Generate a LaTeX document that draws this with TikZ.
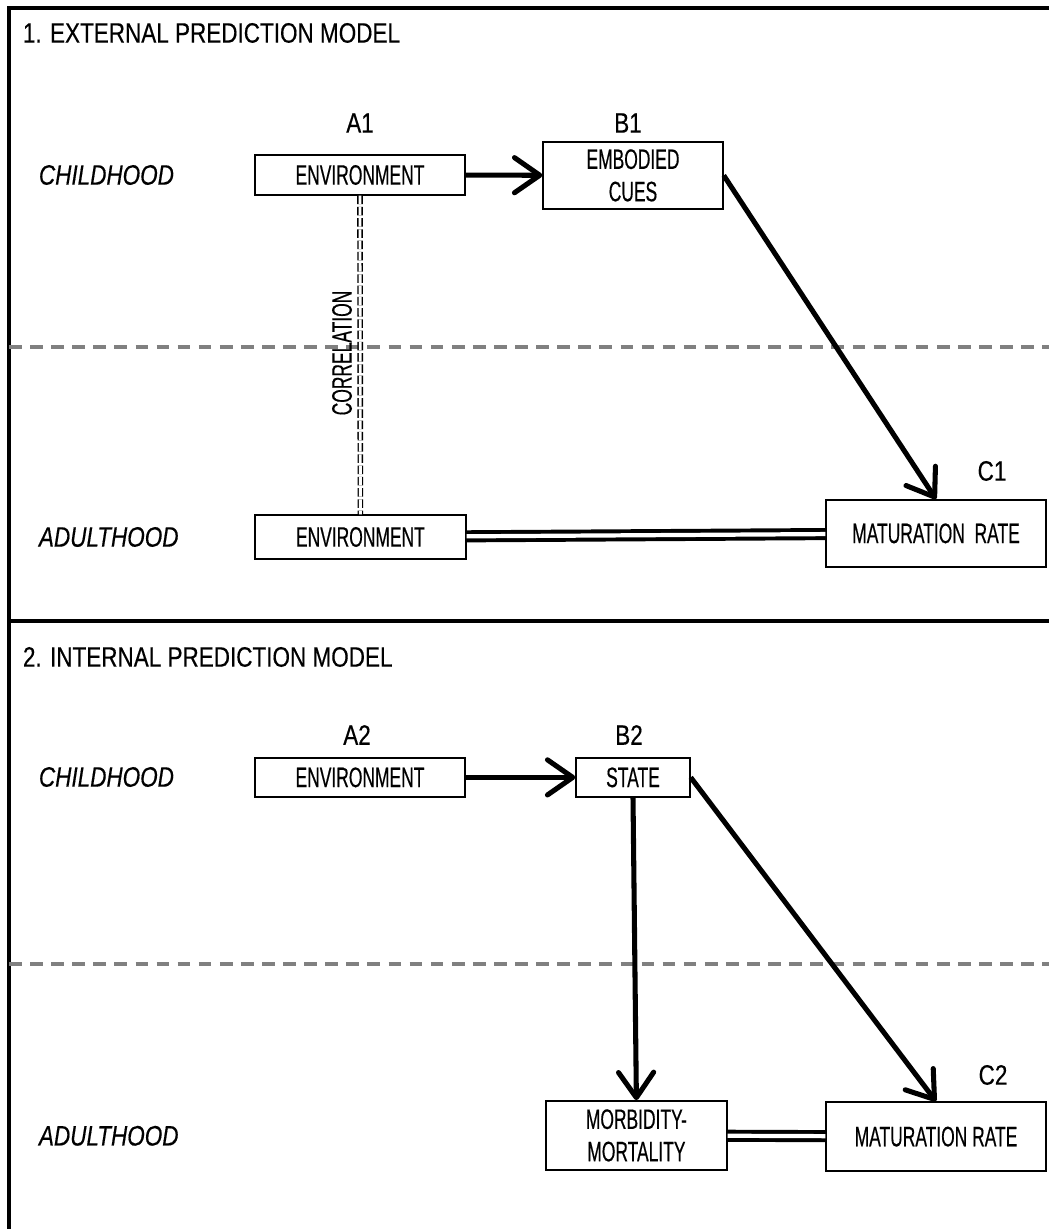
\documentclass[tikz,border=0pt]{standalone}
\usepackage{fontspec}
\setmainfont{Liberation Sans}[FakeStretch=0.8, FakeBold=0.4]
\newfontfamily\boxfont{Liberation Sans}[FakeStretch=0.62, FakeBold=0.4]
\usetikzlibrary{arrows.meta}

\tikzset{
  box/.style={draw, line width=1pt, inner sep=0pt, align=center,
    font=\boxfont\fontsize{20}{23}\selectfont},
  lbl/.style={font=\fontsize{20}{23}\selectfont},
  phase/.style={anchor=west, font=\itshape\fontsize{20}{23}\selectfont},
  arw/.style={line width=3.6pt, -{Straight Barb[length=18pt, width=25pt, round]}},
  dbl/.style={line width=2.8pt, double distance=3pt},
  corr/.style={line width=1pt, double distance=2pt, dash pattern=on 6pt off 2pt},
  sepline/.style={line width=2.2pt, black!50, dash pattern=on 9pt off 6pt},
}

\begin{document}
\begin{tikzpicture}

  \useasboundingbox (0,0) rectangle (26.225,30.725);

  % frame
  \draw[line width=2.2pt] (0.225,0) -- (0.225,30.525) -- (26.225,30.525);
  \draw[line width=2.2pt] (0.225,15.2) -- (26.225,15.2);

  % childhood / adulthood borders
  \draw[sepline] (0.225,22.05) -- (26.225,22.05);
  \draw[sepline] (0.225,6.625) -- (26.225,6.625);

  % 1. external prediction model
  \node[lbl, anchor=west] (title1) at (0.45,29.9) {1. EXTERNAL PREDICTION MODEL};
  \node[phase] (child1) at (0.85,26.35) {CHILDHOOD};
  \node[phase] (adult1) at (0.85,17.3) {ADULTHOOD};

  \node[lbl] (a1lbl) at (9.0,27.65) {A1};
  \node[lbl] (b1lbl) at (15.7,27.65) {B1};
  \node[lbl] (c1lbl) at (24.8,18.95) {C1};

  \node[box, minimum width=5.25cm, minimum height=1.0cm] (a1) at (9.0,26.35) {ENVIRONMENT};
  \node[box, minimum width=4.5cm, minimum height=1.675cm] (b1) at (15.825,26.34) {EMBODIED\\CUES};
  \node[box, minimum width=5.275cm, minimum height=1.1cm] (a1ad) at (9.01,17.3) {ENVIRONMENT};
  \node[box, minimum width=5.5cm, minimum height=1.675cm] (c1) at (23.4,17.39) {MATURATION\ \ RATE};

  \draw[arw] (a1) -- (b1);
  \draw[arw] (b1.east) -- (c1.north);
  \draw[dbl] (a1ad) -- (c1);
  \draw[corr] (a1.south) -- (a1ad.north);
  \node[rotate=90, font=\boxfont\fontsize{20}{23}\selectfont] (corrlbl) at (8.55,21.9) {CORRELATION};

  % 2. internal prediction model
  \node[lbl, anchor=west] (title2) at (0.45,14.3) {2. INTERNAL PREDICTION MODEL};
  \node[phase] (child2) at (0.85,11.3) {CHILDHOOD};
  \node[phase] (adult2) at (0.85,2.33) {ADULTHOOD};

  \node[lbl] (a2lbl) at (8.925,12.35) {A2};
  \node[lbl] (b2lbl) at (15.725,12.35) {B2};
  \node[lbl] (c2lbl) at (24.825,3.85) {C2};

  \node[box, minimum width=5.25cm, minimum height=0.975cm] (a2) at (9.0,11.29) {ENVIRONMENT};
  \node[box, minimum width=2.85cm, minimum height=0.975cm] (b2) at (15.825,11.29) {STATE};
  \node[box, minimum width=4.525cm, minimum height=1.725cm] (morb) at (15.91,2.34) {MORBIDITY-\\MORTALITY};
  \node[box, minimum width=5.5cm, minimum height=1.725cm] (c2) at (23.4,2.31) {MATURATION RATE};

  \draw[arw] (a2) -- (b2);
  \draw[arw] (b2.south) -- (morb.north);
  \draw[arw] (b2.east) -- (c2.north);
  \draw[dbl] (morb) -- (c2);

\end{tikzpicture}
\end{document}
